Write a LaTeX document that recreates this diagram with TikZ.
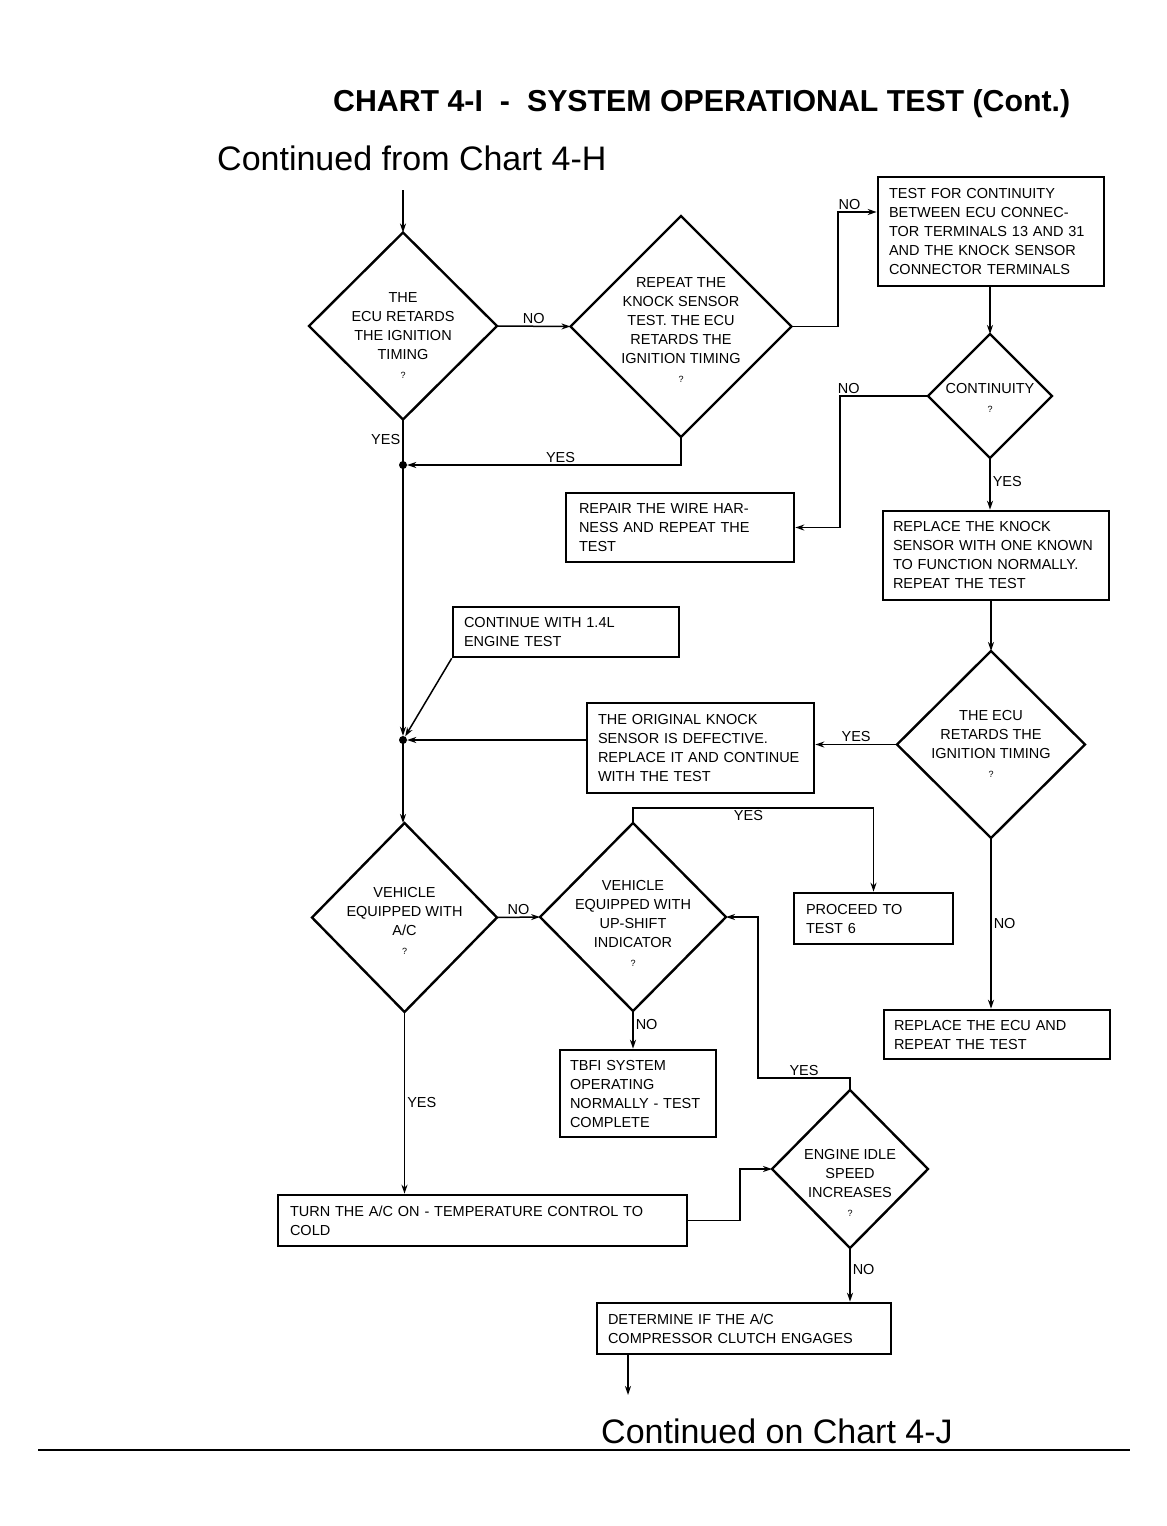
\documentclass[tikz,border=0pt]{standalone}
\usepackage{fontspec}
\setmainfont{Liberation Sans}
\usetikzlibrary{shapes.geometric,arrows.meta}
\begin{document}
\begin{tikzpicture}[x=1pt,y=-1pt,
  box/.style={draw,line width=2.6pt,rectangle,inner sep=0pt,align=left,
    font=\fontsize{14.5}{19}\selectfont},
  dia/.style={draw,line width=2.4pt,diamond,inner sep=0pt,outer sep=0pt},
  dtext/.style={align=center,font=\fontsize{14.5}{19}\selectfont,inner sep=0pt},
  conn/.style={line width=1.5pt},
  arr/.style={conn,-{Stealth[length=9pt,width=6pt]}},
  lbl/.style={font=\fontsize{14.5}{17}\selectfont,inner sep=2pt},
  jdot/.style={circle,fill,inner sep=0pt,minimum size=8pt}]
\useasboundingbox (0,0) rectangle (1167,1526);
\fill[white] (0,0) rectangle (1167,1526);

% titles
\node[font=\fontsize{30.3}{36}\selectfont\bfseries,anchor=west,inner sep=0pt] (title) at (333,104)
  {CHART 4-I\hspace{17pt}-\hspace{17pt}SYSTEM OPERATIONAL TEST (Cont.)};
\node[font=\fontsize{34}{40}\selectfont,anchor=west,inner sep=0pt] (from) at (217,158) {Continued from Chart 4-H};
\node[font=\fontsize{34}{40}\selectfont,anchor=west,inner sep=0pt] (onto) at (601,1431) {Continued on Chart 4-J};
\coordinate (rl) at (38,1450);
\coordinate (rr) at (1130,1450);
\draw[line width=1.2pt] (rl) -- (rr);

% diamonds
\node[dia,minimum width=188pt,minimum height=187pt] (d1) at (403,326) {};
\node[dtext] (d1t) at (403,336) {THE\\ECU RETARDS\\THE IGNITION\\TIMING\\{\fontsize{9}{17}\selectfont ?}};
\node[dia,minimum width=221pt,minimum height=221pt] (d2) at (681,326.5) {};
\node[dtext] (d2t) at (681,330) {REPEAT THE\\KNOCK SENSOR\\TEST. THE ECU\\RETARDS THE\\IGNITION TIMING\\{\fontsize{9}{17}\selectfont ?}};
\node[dia,minimum width=124pt,minimum height=124pt] (d3) at (990,396) {};
\node[dtext] (d3t) at (990,398) {CONTINUITY\\{\fontsize{9}{15}\selectfont ?}};
\node[dia,minimum width=188pt,minimum height=187pt] (d4) at (991,744.5) {};
\node[dtext] (d4t) at (991,744) {THE ECU\\RETARDS THE\\IGNITION TIMING\\{\fontsize{9}{17}\selectfont ?}};
\node[dia,minimum width=185pt,minimum height=189pt] (d5) at (404.5,917.5) {};
\node[dtext] (d5t) at (404.5,921) {VEHICLE\\EQUIPPED WITH\\A/C\\{\fontsize{9}{17}\selectfont ?}};
\node[dia,minimum width=186pt,minimum height=188pt] (d6) at (633,917) {};
\node[dtext] (d6t) at (633,923) {VEHICLE\\EQUIPPED WITH\\UP-SHIFT\\INDICATOR\\{\fontsize{9}{17}\selectfont ?}};
\node[dia,minimum width=156pt,minimum height=158pt] (d7) at (850,1169) {};
\node[dtext] (d7t) at (850,1183) {ENGINE IDLE\\SPEED\\INCREASES\\{\fontsize{9}{17}\selectfont ?}};

% boxes
\node[box,minimum width=226pt,minimum height=109pt,text width=204pt] (b1) at (991,231.5)
  {TEST FOR CONTINUITY\\BETWEEN ECU CONNEC-\\TOR TERMINALS 13 AND 31\\AND THE KNOCK SENSOR\\CONNECTOR TERMINALS};
\node[box,minimum width=228pt,minimum height=69pt,text width=202pt] (rep) at (680,527.5)
  {REPAIR THE WIRE HAR-\\NESS AND REPEAT THE\\TEST};
\node[box,minimum width=226pt,minimum height=89pt,text width=206pt] (rks) at (996,555.5)
  {REPLACE THE KNOCK\\SENSOR WITH ONE KNOWN\\TO FUNCTION NORMALLY.\\REPEAT THE TEST};
\node[box,minimum width=226pt,minimum height=50pt,text width=204pt] (cont) at (566,632)
  {CONTINUE WITH 1.4L\\ENGINE TEST};
\node[box,minimum width=227pt,minimum height=90pt,text width=205pt] (orig) at (700.5,748)
  {THE ORIGINAL KNOCK\\SENSOR IS DEFECTIVE.\\REPLACE IT AND CONTINUE\\WITH THE TEST};
\node[box,minimum width=159pt,minimum height=51pt,text width=135pt] (proc) at (873.5,918.5)
  {PROCEED TO\\TEST 6};
\node[box,minimum width=226pt,minimum height=49pt,text width=206pt] (recu) at (997,1034.5)
  {REPLACE THE ECU AND\\REPEAT THE TEST};
\node[box,minimum width=156pt,minimum height=87pt,text width=136pt] (tbfi) at (638,1093.5)
  {TBFI SYSTEM\\OPERATING\\NORMALLY - TEST\\COMPLETE};
\node[box,minimum width=409pt,minimum height=51pt,text width=385pt] (turn) at (482.5,1220.5)
  {TURN THE A/C ON - TEMPERATURE CONTROL TO\\COLD};
\node[box,minimum width=294pt,minimum height=51pt,text width=272pt] (det) at (744,1328.5)
  {DETERMINE IF THE A/C\\COMPRESSOR CLUTCH ENGAGES};

% junctions and free ends
\coordinate (start) at (403,190);
\node[jdot] (j1) at (403,465) {};
\node[jdot] (j2) at (403,740) {};
\coordinate (endp) at (628,1395);

% connectors
\draw[arr] (start) -- (d1.north);
\draw[arr] (d1.east) -- node[lbl,above]{NO} (d2.west);
\draw[arr] (d2.east) -- (838,326.5) -- (838,212) -- node[lbl,above,pos=0.3]{NO} ([yshift=19.5pt]b1.west);
\draw[conn] (d1.south) -- node[lbl,left,pos=0.45]{YES} (j1.center);
\draw[arr] (d2.south) |- node[lbl,above,pos=0.72]{YES} (j1);
\draw[arr] (j1.center) -- (j2);
\draw[arr] (d3.north |- b1.south) -- (d3.north);
\draw[arr] (d3.west) -| node[lbl,above,pos=0.45]{NO} (840,527.5) -- (rep.east);
\draw[arr] (d3.south) -- node[lbl,right,pos=0.45]{YES} (rks.north -| d3.south);
\draw[arr] (rks.south -| d4.north) -- (d4.north);
\draw[arr] (d4.west) -- node[lbl,above]{YES} (orig.east |- d4.west);
\draw[arr] ([yshift=8pt]orig.west) -- (j2);
\draw[arr] (cont.south west) -- (j2);
\draw[arr] (j2.center) -- (j2.center |- d5.north);
\draw[arr] (d4.south) -- node[lbl,right]{NO} (recu.north -| d4.south);
\draw[arr] (d5.east) -- node[lbl,above]{NO} (d6.west);
\draw[arr] (d6.north) -- (633,808) -| node[lbl,below,pos=0.24]{YES} (proc.north);
\draw[arr] (d6.south) -- node[lbl,right,pos=0.35]{NO} (tbfi.north -| d6.south);
\draw[arr] (d5.south) -- node[lbl,right]{YES} (turn.north -| d5.south);
\draw[arr] (turn.east) -| (740,1169) -- (d7.west);
\draw[arr] (d7.north) -- (850,1078) -- node[lbl,above]{YES} (758,1078) -- (758,917) -- (d6.east);
\draw[arr] (d7.south) -- node[lbl,right,pos=0.4]{NO} (det.north -| d7.south);
\draw[arr] (endp |- det.south) -- (endp);
\end{tikzpicture}
\end{document}
